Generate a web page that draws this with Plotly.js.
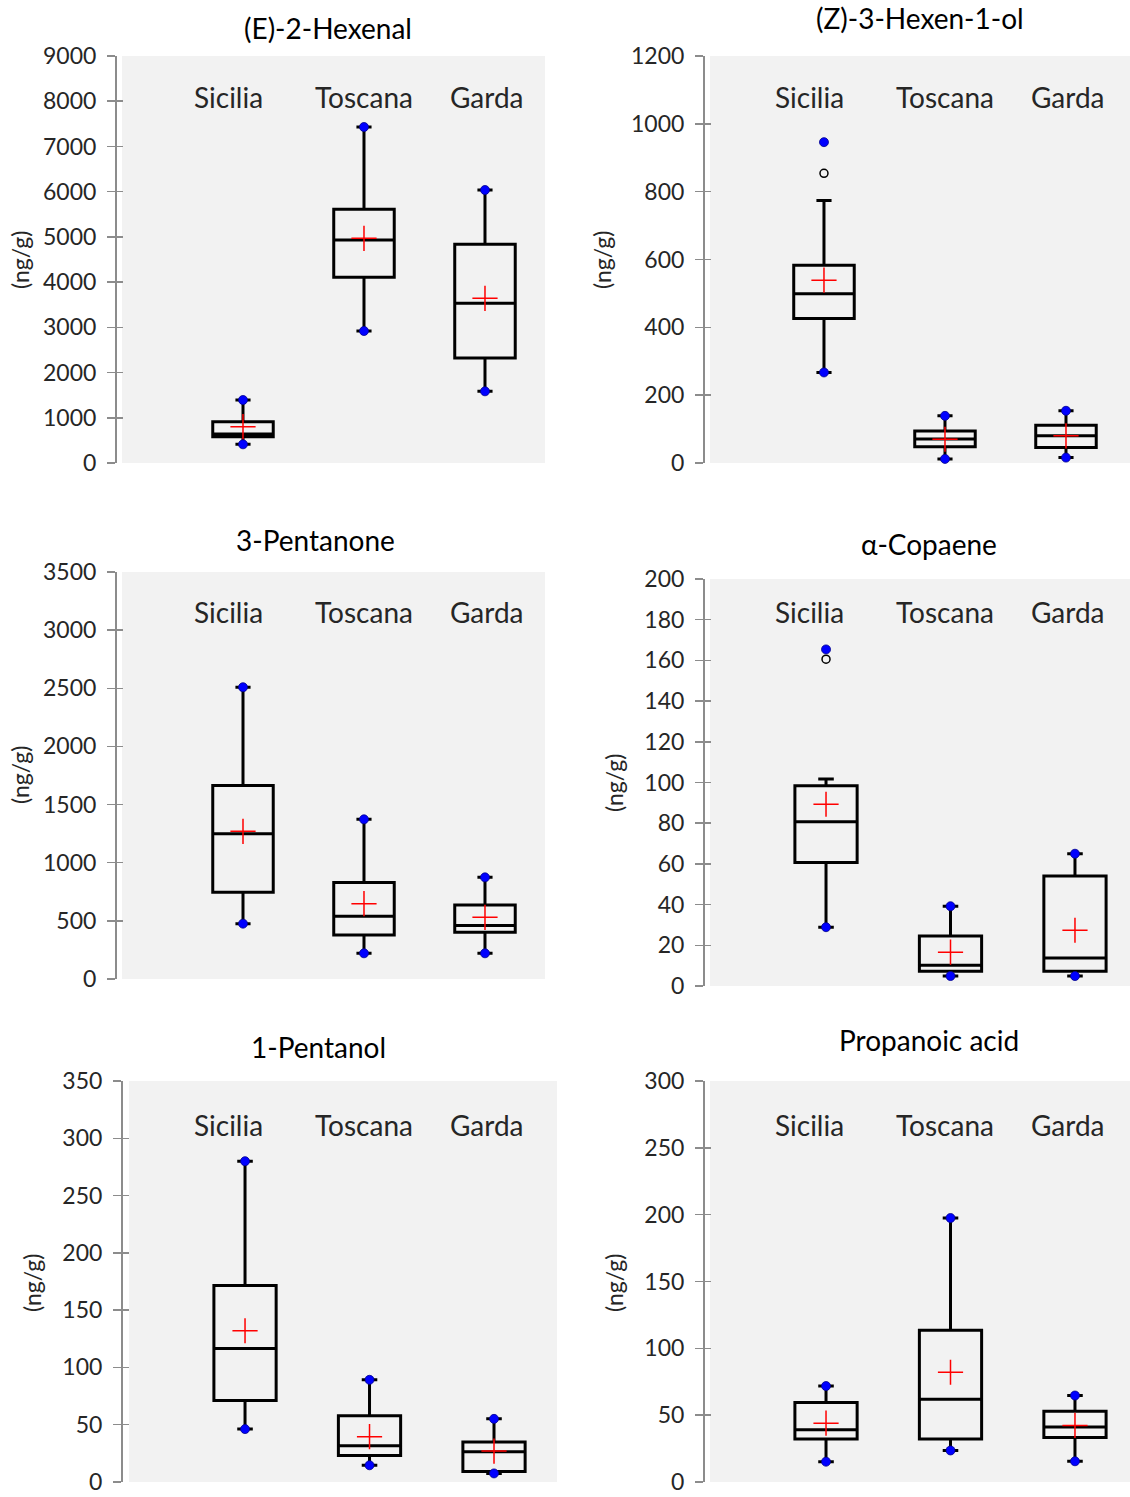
<!DOCTYPE html>
<html>
<head>
<meta charset="utf-8">
<script src="https://cdn.plot.ly/plotly-3.0.1.min.js"></script>
<style>html,body{margin:0;padding:0;background:#fff;}#chart{width:1130px;height:1497px;}</style>
</head>
<body>
<div id="chart"></div>
<script>
// ---------------- DATA ----------------
const regions = ['Sicilia', 'Toscana', 'Garda'];
const compounds = ['(E)-2-Hexenal', '(Z)-3-Hexen-1-ol', '3-Pentanone', 'α-Copaene', '1-Pentanol', 'Propanoic acid'];
const unitLabel = '(ng/g)';
// per compound: [Sicilia, Toscana, Garda]
const q1Values = [[582, 4106, 2322], [426, 48, 46], [745, 378, 401], [60.7, 7.2, 7.2], [71.1, 23.2, 9.2], [32.2, 32.2, 33.2]];
const medianValues = [[641, 4931, 3531], [499, 71, 80], [1250, 539, 459], [80.7, 10.2, 13.8], [116.5, 31.6, 26.4], [39.1, 62, 41.1]];
const q3Values = [[913, 5610, 4836], [583, 94, 111], [1663, 829, 636], [98.4, 24.6, 54.1], [171.5, 57.9, 35.0], [59.5, 113.6, 52.9]];
const lowerWhisker = [[413, 2919, 1585], [267, 12, 16], [476, 221, 221], [28.9, 4.9, 4.9], [46.2, 14.6, 7.5], [15.2, 23.6, 15.5]];
const upperWhisker = [[1393, 7430, 6037], [774, 139, 154], [2509, 1373, 874], [101.7, 39.2, 65.0], [280, 89.2, 55.1], [71.8, 197.5, 64.7]];
const meanValues = [[803, 4969, 3642], [539, 70, 80], [1270, 648, 530], [89.3, 16.6, 27.4], [132, 39.6, 27], [44, 82.1, 42.3]];
const minValues = [[413, 2919, 1585], [267, 12, 16], [476, 221, 221], [28.9, 4.9, 4.9], [46.2, 14.6, 7.5], [15.2, 23.6, 15.5]];
const maxValues = [[1393, 7430, 6037], [946, 139, 154], [2509, 1373, 874], [165.4, 39.2, 65.0], [280, 89.2, 55.1], [71.8, 197.5, 64.7]];
// outliers (open circles)
const outlierRegions = [[], ['Sicilia'], [], ['Sicilia'], [], []];
const outlierValues = [[], [854], [], [160.6], [], []];
const yMax = [9000, 1200, 3500, 200, 350, 300];
const yStep = [1000, 200, 500, 20, 50, 50];

// ---------------- LAYOUT GEOMETRY (pixels) ----------------
const W = 1130, H = 1497;
const px = x => x / W;
const py = y => 1 - y / H;
const leftLabelX = [228, 364, 487];
const rightLabelX = [809, 945, 1068];
const geo = [
  {x0: 122, x1: 545, y0: 56, y1: 463, ax: 115, xr: [-1.0, 2.496], title: [328, 28], ytl: [20, 260], lab: 97, lx: leftLabelX},
  {x0: 710, x1: 1130, y0: 56, y1: 463, ax: 703, xr: [-0.942, 2.529], title: [920, 18], ytl: [602, 260], lab: 97, lx: rightLabelX},
  {x0: 122, x1: 545, y0: 572, y1: 979, ax: 115, xr: [-1.0, 2.496], title: [315, 540], ytl: [20, 775], lab: 612, lx: leftLabelX},
  {x0: 710, x1: 1130, y0: 579, y1: 986, ax: 703, xr: [-0.932, 2.442], title: [929, 544], ytl: [614, 783], lab: 612, lx: rightLabelX},
  {x0: 129, x1: 557, y0: 1081, y1: 1482, ax: 121, xr: [-0.932, 2.506], title: [318, 1047], ytl: [32, 1283], lab: 1125, lx: leftLabelX},
  {x0: 710, x1: 1130, y0: 1081, y1: 1482, ax: 703, xr: [-0.932, 2.442], title: [929, 1040], ytl: [614, 1283], lab: 1125, lx: rightLabelX}
];

const FONT = 'Lato, "Open Sans", sans-serif';
const traces = [];
const layout = {
  width: W, height: H,
  margin: {l: 0, r: 0, t: 0, b: 0},
  paper_bgcolor: '#ffffff',
  plot_bgcolor: '#f2f2f2',
  showlegend: false,
  font: {family: FONT, color: '#262626'},
  annotations: []
};

for (let i = 0; i < 6; i++) {
  const n = i + 1;
  const g = geo[i];
  const xa = 'x' + n, ya = 'y' + n, yo = 'y' + (n + 6);
  const tickvals = [];
  for (let v = 0; v <= yMax[i] + 1e-9; v += yStep[i]) tickvals.push(v);

  traces.push({
    type: 'box', xaxis: xa, yaxis: ya,
    x: regions,
    q1: q1Values[i], median: medianValues[i], q3: q3Values[i],
    lowerfence: lowerWhisker[i], upperfence: upperWhisker[i],
    boxpoints: false, width: 0.5, whiskerwidth: 0.25,
    fillcolor: 'rgba(0,0,0,0)',
    line: {color: '#000000', width: 3},
    hoverinfo: 'skip'
  });
  // min / max markers
  traces.push({
    type: 'scatter', mode: 'markers', xaxis: xa, yaxis: ya,
    x: regions.concat(regions), y: minValues[i].concat(maxValues[i]),
    marker: {symbol: 'circle', size: 9, color: '#0000ff', line: {color: '#00008b', width: 0.8}},
    hoverinfo: 'skip', cliponaxis: false
  });
  // outliers
  if (outlierValues[i].length) {
    traces.push({
      type: 'scatter', mode: 'markers', xaxis: xa, yaxis: ya,
      x: outlierRegions[i], y: outlierValues[i],
      marker: {symbol: 'circle-open', size: 8, color: '#000000', line: {color: '#000000', width: 1.5}},
      hoverinfo: 'skip'
    });
  }
  // mean crosses
  traces.push({
    type: 'scatter', mode: 'markers', xaxis: xa, yaxis: ya,
    x: regions, y: meanValues[i],
    marker: {symbol: 'cross-thin', size: 18, color: '#ff0000', line: {color: '#ff0000', width: 1.5}},
    hoverinfo: 'skip'
  });
  // dummy trace for the overlay tick axis
  traces.push({
    type: 'scatter', mode: 'markers', xaxis: xa, yaxis: yo,
    x: [regions[0]], y: [null], hoverinfo: 'skip'
  });

  layout['xaxis' + n] = {
    domain: [px(g.x0), px(g.x1)], anchor: ya,
    type: 'category', categoryarray: regions, categoryorder: 'array',
    range: g.xr, showticklabels: false, ticks: '', showline: false,
    showgrid: false, zeroline: false, fixedrange: true
  };
  const common = {
    domain: [py(g.y1), py(g.y0)], anchor: 'free', position: px(g.ax),
    range: [0, yMax[i]], tickmode: 'array', tickvals: tickvals,
    showgrid: false, zeroline: false, fixedrange: true, tickcolor: '#8c8c8c', tickwidth: 1.5,
    ticklabeloverflow: 'allow'
  };
  layout['yaxis' + n] = Object.assign({}, common, {
    ticks: 'outside', ticklen: 8, showline: true, linecolor: '#8c8c8c', linewidth: 1.5,
    ticklabelstandoff: 6,
    tickfont: {family: FONT, size: 23, color: '#262626'}
  });
  layout['yaxis' + (n + 6)] = Object.assign({}, common, {
    overlaying: ya, ticks: 'inside', ticklen: 7, showline: false, showticklabels: false
  });

  // title
  layout.annotations.push({
    xref: 'paper', yref: 'paper', x: px(g.title[0]), y: py(g.title[1]),
    text: compounds[i], showarrow: false, xanchor: 'center', yanchor: 'middle',
    font: {family: FONT, size: 28, color: '#000000'}
  });
  // y title
  layout.annotations.push({
    xref: 'paper', yref: 'paper', x: px(g.ytl[0]), y: py(g.ytl[1]),
    text: unitLabel, showarrow: false, textangle: -90, xanchor: 'center', yanchor: 'middle',
    font: {family: FONT, size: 23, color: '#262626'}
  });
  // region labels
  for (let k = 0; k < 3; k++) {
    layout.annotations.push({
      xref: 'paper', yref: 'paper', x: px(g.lx[k]), y: py(g.lab),
      text: regions[k], showarrow: false, xanchor: 'center', yanchor: 'middle',
      font: {family: FONT, size: 28, color: '#262626'}
    });
  }
}

Plotly.newPlot('chart', traces, layout, {staticPlot: true, displayModeBar: false});
</script>
</body>
</html>
